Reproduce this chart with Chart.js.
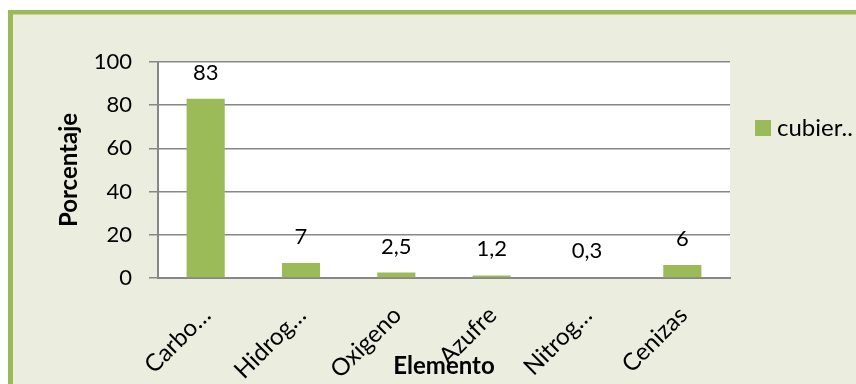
<!DOCTYPE html>
<html>
<head>
<meta charset="utf-8">
<script src="https://cdn.jsdelivr.net/npm/chart.js@4/dist/chart.umd.min.js"></script>
<style>
  html, body { margin: 0; padding: 0; background: #ffffff; }
  #wrap { width: 856px; height: 384px; position: relative; }
</style>
</head>
<body>
<div id="wrap"><canvas id="c" width="856" height="384"></canvas></div>
<script>
// Composition by element (percent)
const categories = ['Carbo…', 'Hidrog…', 'Oxigeno', 'Azufre', 'Nitrog…', 'Cenizas'];
const seriesName = 'cubier..';
const values = [83, 7, 2.5, 1.2, 0.3, 6];
const yTicks = [0, 20, 40, 60, 80, 100];

const GREEN = '#9BBB59';
const PANEL = '#EBEEDE';
const GRID = '#878787';
const FONT = 'Lato, "Open Sans", sans-serif';

// Panel background with the green frame and the white plot area
const framePlugin = {
  id: 'frame',
  beforeDraw(chart) {
    const ctx = chart.ctx;
    const { width, height, chartArea } = chart;
    ctx.save();
    ctx.fillStyle = '#ffffff';
    ctx.fillRect(0, 0, width, height);
    ctx.fillStyle = PANEL;
    ctx.fillRect(8, 10, width, height);
    ctx.fillStyle = GREEN;
    ctx.fillRect(8, 10, width, 4.5);
    ctx.fillRect(8, 10, 5, height);
    ctx.fillStyle = '#ffffff';
    ctx.fillRect(chartArea.left, chartArea.top, chartArea.right - chartArea.left, chartArea.bottom - chartArea.top);
    ctx.restore();
  }
};

// Value labels above each bar
const valueLabels = {
  id: 'valueLabels',
  afterDatasetsDraw(chart) {
    const ctx = chart.ctx;
    const meta = chart.getDatasetMeta(0);
    const data = chart.data.datasets[0].data;
    ctx.save();
    ctx.font = '22px ' + FONT;
    ctx.fillStyle = '#000000';
    ctx.textAlign = 'center';
    ctx.textBaseline = 'alphabetic';
    meta.data.forEach((bar, i) => {
      const txt = String(data[i]).replace('.', ',');
      ctx.fillText(txt, bar.x, bar.y - 19);
    });
    ctx.restore();
  }
};

// Legend entry to the right of the plot
const sideLegend = {
  id: 'sideLegend',
  afterDraw(chart) {
    const ctx = chart.ctx;
    const ds = chart.data.datasets[0];
    const x = chart.chartArea.right + 25;
    const y = chart.chartArea.top + 58;
    ctx.save();
    ctx.fillStyle = ds.backgroundColor;
    ctx.fillRect(x, y, 16, 16);
    ctx.font = '24px ' + FONT;
    ctx.fillStyle = '#000000';
    ctx.textAlign = 'left';
    ctx.textBaseline = 'middle';
    ctx.fillText(ds.label, x + 22, y + 8);
    ctx.restore();
  }
};

new Chart(document.getElementById('c'), {
  type: 'bar',
  data: {
    labels: categories,
    datasets: [{
      label: seriesName,
      data: values,
      backgroundColor: GREEN,
      borderWidth: 0,
      categoryPercentage: 1,
      barPercentage: 0.4
    }]
  },
  options: {
    responsive: false,
    animation: false,
    devicePixelRatio: 1,
    layout: { padding: { left: 55, top: 62, right: 126, bottom: 3 } },
    plugins: {
      legend: { display: false },
      tooltip: { enabled: false }
    },
    scales: {
      x: {
        grid: { display: false, drawTicks: false },
        border: { display: true, color: GRID, width: 2 },
        ticks: {
          color: '#000000',
          font: { family: FONT, size: 24 },
          minRotation: 45,
          maxRotation: 45,
          padding: 23,
          labelOffset: 1,
          autoSkip: false
        },
        title: {
          display: true,
          text: 'Elemento',
          color: '#000000',
          font: { family: FONT, size: 24, weight: 'bold' },
          padding: 0
        },
        afterFit(scale) { scale.height = 103; }
      },
      y: {
        min: 0,
        max: 100,
        afterBuildTicks(scale) { scale.ticks = yTicks.map(v => ({ value: v })); },
        grid: { color: GRID, lineWidth: 1.5, tickLength: 9, drawTicks: true },
        border: { display: true, color: GRID, width: 2 },
        ticks: {
          color: '#000000',
          font: { family: FONT, size: 22 },
          padding: 17
        },
        title: {
          display: true,
          text: 'Porcentaje',
          color: '#000000',
          font: { family: FONT, size: 24, weight: 'bold' },
          padding: 0
        },
        afterFit(scale) { scale.width = 103; }
      }
    }
  },
  plugins: [framePlugin, valueLabels, sideLegend]
});
</script>
</body>
</html>
